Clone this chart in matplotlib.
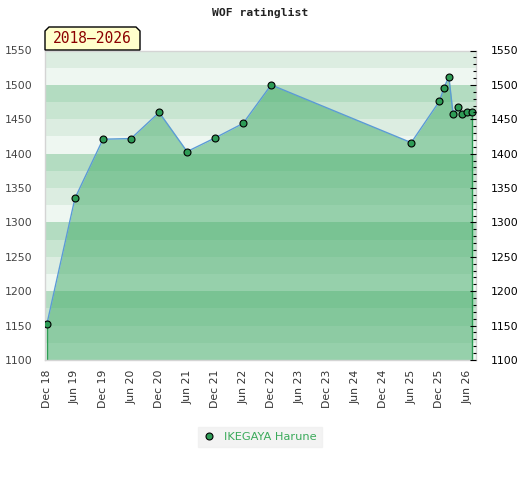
import datetime as dt
import matplotlib
matplotlib.use('Agg')
import matplotlib.pyplot as plt
import matplotlib.dates as mdates
from matplotlib.patches import Polygon
from matplotlib.lines import Line2D
from matplotlib.ticker import MultipleLocator

# rating history (month of each rating list)
months = ['2018-12', '2019-06', '2019-12', '2020-06', '2020-12', '2021-06',
          '2021-12', '2022-06', '2022-12', '2025-06', '2025-12', '2026-01',
          '2026-02', '2026-03', '2026-04', '2026-05', '2026-06', '2026-07']
ratings = [1153, 1335, 1421, 1422, 1460, 1403, 1423, 1444, 1500, 1416,
           1476, 1496, 1512, 1457, 1468, 1457, 1461, 1461]
player = 'IKEGAYA Harune'
period = '2018\u20132026'

dates = [dt.datetime.strptime(m, '%Y-%m') for m in months]

fig = plt.figure(figsize=(5.2, 4.8), dpi=100)
ax = fig.add_axes([45/520, 1-360/480, (476-45)/520, (360-50.5)/480])

# striped background, 25 points per band
band_cols = ['#eef7f1', '#dcede1', '#c8e5d1', '#b3dcc1']
for i, lo in enumerate(range(1100, 1550, 25)):
    ax.axhspan(lo, lo+25, color=band_cols[i % 4], lw=0, zorder=0)

ax.fill_between(dates, ratings, 1100, color='#40ab66', alpha=0.5, lw=0, zorder=1)
ax.vlines([dates[0], dates[-1]], 1100, [ratings[0], ratings[-1]], color='#2e9e55', lw=1, zorder=2)
ax.plot(dates, ratings, color='#5b9bd5', lw=1, zorder=3)
ax.plot(dates, ratings, ls='none', marker='o', ms=5, mfc='#2e9b56', mec='black', mew=0.8, zorder=4)

ax.set_ylim(1100, 1550)
ax.set_xlim(dt.datetime(2018, 11, 18), dt.datetime(2026, 7, 28))
ax.xaxis.set_major_locator(mdates.MonthLocator(bymonth=[6, 12]))
ax.xaxis.set_major_formatter(mdates.DateFormatter('%b %y'))
ax.tick_params(axis='x', length=0, labelsize=7.8, labelcolor='#333333', rotation=90, pad=7)
ax.yaxis.set_major_locator(MultipleLocator(50))
ax.tick_params(axis='y', length=0, labelsize=7.8, labelcolor='#444444', pad=9)
for s in ax.spines.values():
    s.set_color('#d4d4d4')
    s.set_linewidth(1)

ax2 = ax.twinx()
ax2.set_ylim(1100, 1550)
ax2.yaxis.set_major_locator(MultipleLocator(50))
ax2.yaxis.set_minor_locator(MultipleLocator(10))
ax2.tick_params(axis='y', which='major', direction='in', length=4.5, width=0.8, labelsize=7.8, labelcolor='black', pad=11)
ax2.tick_params(axis='y', which='minor', direction='in', length=2.5, width=0.8)
for s in ax2.spines.values():
    s.set_visible(False)

fig.text(0.5, 1-13/480, 'WOF ratinglist', ha='center', va='center',
         family='DejaVu Sans Mono', weight='bold', size=8.2, color='#222222')

# period tag with chamfered corners
x0, x1 = 45/520, 140/520
y0, y1 = 1-50/480, 1-27/480
cx, cy = 4/520, 4/480
tag = Polygon([(x0, y0), (x0, y1-cy), (x0+cx, y1), (x1-cx, y1), (x1, y1-cy), (x1, y0)],
              closed=True, transform=fig.transFigure, facecolor='#ffffcc',
              edgecolor='black', lw=1, zorder=10)
fig.add_artist(tag)
fig.text((x0+x1)/2, (y0+y1)/2, period, ha='center', va='center',
         family='DejaVu Sans Mono', size=10.5, color='#8b0000', zorder=11)

handle = Line2D([], [], ls='none', marker='o', ms=5, mfc='#2e9b56', mec='black', mew=0.8)
leg = fig.legend([handle], [player], loc='center', bbox_to_anchor=(0.5, 1-437/480),
                 frameon=True, fancybox=False, fontsize=8.2, handlelength=1,
                 handletextpad=0.8, borderpad=0.45)
leg.get_frame().set_facecolor('#f0f0f0')
leg.get_frame().set_edgecolor('#f0f0f0')
for t in leg.get_texts():
    t.set_color('#3aaa5a')

fig.savefig('out.png', dpi=100)
